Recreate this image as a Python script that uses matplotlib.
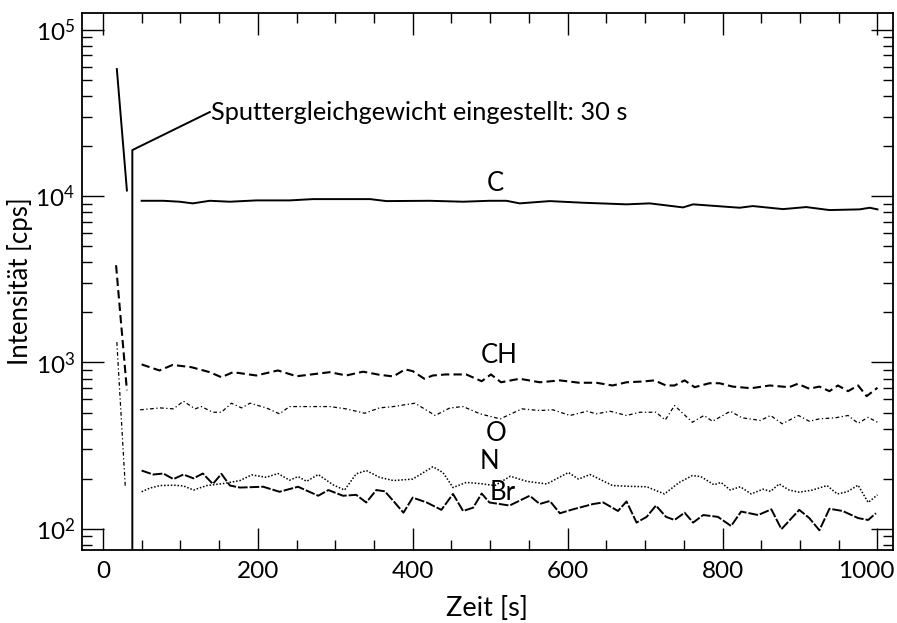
import numpy as np
import matplotlib
matplotlib.use("Agg")
import matplotlib.pyplot as plt
import matplotlib.transforms as mtransforms
from matplotlib.ticker import MultipleLocator, LogLocator, NullFormatter

plt.rcParams['font.family'] = ['Lato', 'DejaVu Sans']
plt.rcParams['mathtext.fontset'] = 'custom'
plt.rcParams['mathtext.rm'] = 'Lato'
plt.rcParams['mathtext.it'] = 'Lato:italic'

# start-up transients (before sputter equilibrium)
c_t0 = [18, 31]
c_v0 = [58000, 10800]
ch_t0 = [17, 31]
ch_v0 = [3840, 680]
o_t0 = [18, 29]
o_v0 = [1325, 176]

# equilibrium signals
c_t = [50, 78, 99, 116, 138, 164, 198, 241, 271, 345, 366, 422, 465, 499, 521,
       538, 577, 620, 676, 706, 749, 762, 788, 822, 839, 878, 908, 938, 977, 990, 1000]
c_v = [9370, 9370, 9250, 9040, 9370, 9250, 9420, 9420, 9590, 9590, 9330, 9370, 9250, 9370, 9370,
       9040, 9330, 9120, 8920, 9040, 8550, 8920, 8740, 8510, 8710, 8350, 8590, 8240, 8320, 8510, 8320]

ch_t = [50, 73, 90, 114, 138, 153, 168, 198, 226, 250, 293, 314, 336, 357, 375, 390, 400, 415,
        426, 443, 469, 489, 501, 514, 538, 564, 590, 615, 637, 658, 676, 697, 712, 727, 738, 751,
        764, 783, 796, 813, 837, 861, 886, 897, 912, 925, 938, 949, 962, 975, 986, 1000]
ch_v = [973, 895, 966, 937, 874, 815, 874, 835, 895, 826, 874, 835, 880, 843, 824, 908, 887, 798,
        835, 847, 847, 771, 847, 760, 798, 760, 780, 755, 755, 727, 760, 768, 780, 727, 727, 780,
        710, 750, 750, 716, 700, 727, 710, 744, 695, 716, 672, 727, 672, 727, 627, 704]

o_t = [48, 74, 91, 104, 119, 127, 142, 153, 166, 179, 190, 211, 228, 241, 267, 293, 314, 338,
       357, 375, 403, 429, 448, 465, 487, 513, 541, 564, 581, 603, 625, 637, 655, 676, 693, 714,
       726, 738, 761, 776, 787, 810, 825, 849, 862, 877, 898, 912, 925, 946, 962, 975, 988, 1000]
o_v = [519, 533, 526, 585, 526, 543, 502, 502, 569, 533, 569, 533, 491, 543, 543, 543, 526, 495,
       533, 543, 569, 480, 533, 543, 491, 458, 526, 514, 519, 480, 509, 491, 509, 480, 502, 502,
       451, 551, 437, 480, 443, 509, 465, 448, 480, 428, 480, 443, 458, 465, 480, 431, 468, 437]

n_t = [50, 61, 74, 91, 104, 117, 134, 155, 177, 192, 211, 226, 241, 252, 263, 278, 297, 312, 327,
       340, 357, 375, 400, 426, 439, 452, 469, 487, 506, 526, 547, 573, 601, 614, 629, 658, 680,
       702, 725, 744, 761, 772, 789, 798, 810, 823, 837, 852, 862, 873, 886, 899, 916, 935, 948,
       961, 975, 988, 1000]
n_v = [167, 176, 182, 183, 181, 171, 182, 187, 195, 211, 204, 215, 196, 206, 193, 212, 184, 171, 214,
       224, 204, 195, 199, 236, 218, 177, 190, 187, 182, 207, 193, 186, 218, 199, 212, 182, 180,
       179, 162, 190, 209, 206, 184, 190, 171, 179, 162, 173, 168, 186, 171, 166, 171, 182, 162,
       167, 183, 144, 160]

br_t = [50, 65, 78, 91, 104, 117, 129, 142, 153, 164, 177, 207, 228, 252, 278, 291, 310, 327, 340,
        353, 364, 375, 388, 400, 418, 437, 452, 465, 478, 489, 499, 525, 551, 564, 577, 590, 607,
        633, 646, 665, 676, 689, 702, 714, 727, 738, 751, 762, 775, 794, 811, 824, 846, 863, 876,
        899, 912, 925, 938, 955, 975, 988, 998]
br_v = [224, 212, 215, 199, 212, 201, 215, 186, 214, 182, 177, 179, 167, 179, 158, 171, 158, 160, 144,
        171, 168, 147, 125, 154, 144, 130, 162, 128, 134, 163, 144, 138, 158, 141, 147, 124, 131,
        141, 144, 128, 146, 109, 118, 138, 118, 113, 125, 109, 121, 118, 104, 127, 121, 131, 99.5,
        130, 116, 98, 132, 128, 116, 113, 124]

t_eq = 38          # marked equilibrium time (drawn position)
eq_top = 18900
note_xy = (138, 32000)
note_text = "Sputtergleichgewicht eingestellt: 30 s"

labels = ["C", "CH", "O", "N", "Br"]
label_t = [506, 512, 508, 499, 516]
label_v = [11970, 1100, 373, 253, 165]

fig = plt.figure(figsize=(8.97, 6.23), dpi=100)
ax = fig.add_axes([0.0914, 0.1172, 0.9041, 0.8618])

k = dict(color='black')
ax.plot(c_t0, c_v0, lw=1.4, **k)
ax.plot(c_t, c_v, lw=1.4, **k)
ax.plot(ch_t0, ch_v0, lw=1.5, ls=(0, (4, 2)), **k)
ax.plot(ch_t, ch_v, lw=1.5, ls=(0, (4, 2)), **k)
ax.plot(o_t0, o_v0, lw=0.9, ls=(0, (3, 2, 1, 2)), **k)
ax.plot(o_t, o_v, lw=0.9, ls=(0, (3, 2, 1, 2)), **k)
ax.plot(n_t, n_v, lw=1.1, ls=(0, (1, 1.2)), **k)
ax.plot(br_t, br_v, lw=1.4, ls=(0, (5, 1)), **k)

# equilibrium marker + annotation
ax.plot([t_eq, t_eq, note_xy[0]], [1, eq_top, note_xy[1]], lw=1.4, **k)
ax.text(note_xy[0] + 2, note_xy[1], note_text, fontsize=18.3, va='center', ha='left')

for s, tx, vy in zip(labels, label_t, label_v):
    ax.text(tx, vy, s, fontsize=18.5, ha='center', va='center')

ax.set_yscale('log')
ax.set_xlim(-27, 1020)
ax.set_ylim(74.6, 10 ** 5.1)
ax.xaxis.set_major_locator(MultipleLocator(200))
ax.xaxis.set_minor_locator(MultipleLocator(50))
ax.yaxis.set_major_locator(LogLocator(base=10, numticks=10))
ax.yaxis.set_minor_locator(LogLocator(base=10, subs=np.arange(2, 10), numticks=20))
ax.yaxis.set_minor_formatter(NullFormatter())
ax.tick_params(which='both', direction='in', top=True, right=True, width=1.0)
ax.tick_params(axis='x', labelsize=17.5, pad=8)
ax.tick_params(axis='y', labelsize=17.5, pad=5)
ax.tick_params(which='major', length=16)
ax.tick_params(which='minor', length=7)
for sp in ax.spines.values():
    sp.set_linewidth(1.3)

ax.set_xlabel("Zeit [s]", fontsize=19.5, labelpad=10)
ax.set_ylabel("Intensität [cps]", fontsize=18.5, labelpad=2)

# pull the last x label inside the figure, as in the original
fig.canvas.draw()
shift = mtransforms.ScaledTranslation(-8 / 72, 0, fig.dpi_scale_trans)
for lbl in ax.get_xticklabels():
    if lbl.get_text() == '1000':
        lbl.set_transform(lbl.get_transform() + shift)

fig.savefig("out.png", dpi=100)
